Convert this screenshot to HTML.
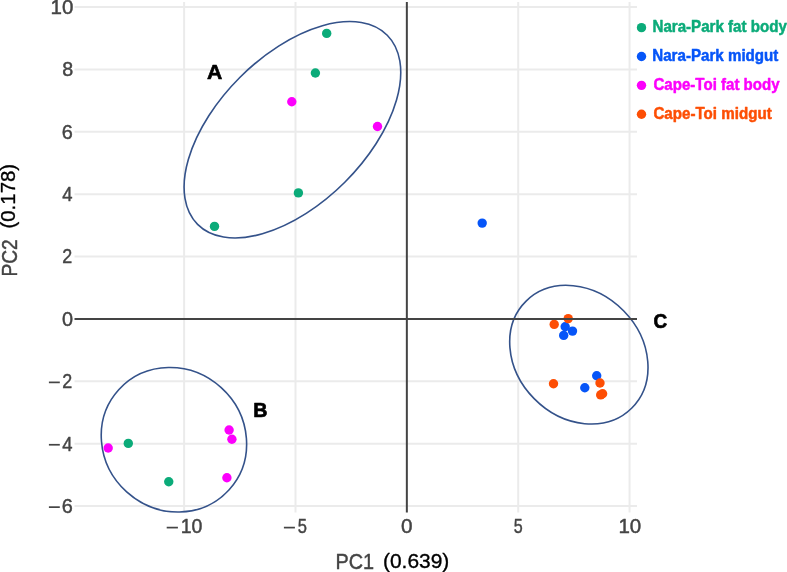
<!DOCTYPE html>
<html><head><meta charset="utf-8"><style>
html,body{margin:0;padding:0;background:#fff;overflow:hidden;}
svg{display:block;will-change:transform;font-family:"Liberation Sans",sans-serif;}
</style></head><body>
<svg width="787" height="572" viewBox="0 0 787 572" font-family="Liberation Sans, sans-serif">
<rect width="787" height="572" fill="#fff"/>
<line x1="184.14" y1="2.0" x2="184.14" y2="512.5" stroke="#ebebeb" stroke-width="2"/>
<line x1="295.50" y1="2.0" x2="295.50" y2="512.5" stroke="#ebebeb" stroke-width="2"/>
<line x1="518.21" y1="2.0" x2="518.21" y2="512.5" stroke="#ebebeb" stroke-width="2"/>
<line x1="629.56" y1="2.0" x2="629.56" y2="512.5" stroke="#ebebeb" stroke-width="2"/>
<line x1="74.5" y1="7.00" x2="637.0" y2="7.00" stroke="#ebebeb" stroke-width="2"/>
<line x1="74.5" y1="69.38" x2="637.0" y2="69.38" stroke="#ebebeb" stroke-width="2"/>
<line x1="74.5" y1="131.76" x2="637.0" y2="131.76" stroke="#ebebeb" stroke-width="2"/>
<line x1="74.5" y1="194.14" x2="637.0" y2="194.14" stroke="#ebebeb" stroke-width="2"/>
<line x1="74.5" y1="256.52" x2="637.0" y2="256.52" stroke="#ebebeb" stroke-width="2"/>
<line x1="74.5" y1="381.28" x2="637.0" y2="381.28" stroke="#ebebeb" stroke-width="2"/>
<line x1="74.5" y1="443.66" x2="637.0" y2="443.66" stroke="#ebebeb" stroke-width="2"/>
<line x1="74.5" y1="506.04" x2="637.0" y2="506.04" stroke="#ebebeb" stroke-width="2"/>
<ellipse cx="292.42" cy="129.76" rx="133.91" ry="74.19" transform="rotate(-44.92 292.42 129.76)" fill="none" stroke="#34528a" stroke-width="1.6"/>
<ellipse cx="173.93" cy="439.78" rx="74.51" ry="70.39" transform="rotate(42.19 173.93 439.78)" fill="none" stroke="#34528a" stroke-width="1.6"/>
<ellipse cx="578.85" cy="354.68" rx="75.19" ry="62.72" transform="rotate(45.46 578.85 354.68)" fill="none" stroke="#34528a" stroke-width="1.6"/>
<circle cx="326.7" cy="33.4" r="4.7" fill="#0bab79"/>
<circle cx="315.4" cy="73.0" r="4.7" fill="#0bab79"/>
<circle cx="298.4" cy="192.9" r="4.7" fill="#0bab79"/>
<circle cx="214.5" cy="226.4" r="4.7" fill="#0bab79"/>
<circle cx="128.3" cy="443.4" r="4.7" fill="#0bab79"/>
<circle cx="168.75" cy="481.7" r="4.7" fill="#0bab79"/>
<circle cx="482.2" cy="223.1" r="4.7" fill="#0655f8"/>
<circle cx="565.2" cy="326.8" r="4.7" fill="#0655f8"/>
<circle cx="572.5" cy="331.1" r="4.7" fill="#0655f8"/>
<circle cx="563.7" cy="335.4" r="4.7" fill="#0655f8"/>
<circle cx="596.7" cy="375.8" r="4.7" fill="#0655f8"/>
<circle cx="584.8" cy="387.7" r="4.7" fill="#0655f8"/>
<circle cx="291.8" cy="101.8" r="4.7" fill="#fc00fc"/>
<circle cx="377.5" cy="126.5" r="4.7" fill="#fc00fc"/>
<circle cx="108.2" cy="448" r="4.7" fill="#fc00fc"/>
<circle cx="229.1" cy="430.0" r="4.7" fill="#fc00fc"/>
<circle cx="231.9" cy="439.2" r="4.7" fill="#fc00fc"/>
<circle cx="226.9" cy="477.8" r="4.7" fill="#fc00fc"/>
<circle cx="554.2" cy="324.4" r="4.7" fill="#fd4e04"/>
<circle cx="568.2" cy="318.6" r="4.7" fill="#fd4e04"/>
<circle cx="553.5" cy="383.8" r="4.7" fill="#fd4e04"/>
<circle cx="600.0" cy="383.0" r="4.7" fill="#fd4e04"/>
<circle cx="600.7" cy="394.9" r="4.7" fill="#fd4e04"/>
<circle cx="602.6" cy="393.8" r="4.7" fill="#fd4e04"/>
<line x1="406.85" y1="2.0" x2="406.85" y2="512.5" stroke="#444" stroke-width="2"/>
<line x1="74.5" y1="318.9" x2="637.0" y2="318.9" stroke="#444" stroke-width="2"/>
<text transform="translate(50.48,13.90) scale(1.0275,1)" font-size="20" fill="#444" stroke="#444" stroke-width="0.45" stroke-linejoin="round">10</text>
<text transform="translate(62.14,76.28) scale(0.9840,1)" font-size="20" fill="#444" stroke="#444" stroke-width="0.45" stroke-linejoin="round">8</text>
<text transform="translate(61.63,138.66) scale(0.9946,1)" font-size="20" fill="#444" stroke="#444" stroke-width="0.45" stroke-linejoin="round">6</text>
<text transform="translate(62.26,201.04) scale(0.9250,1)" font-size="20" fill="#444" stroke="#444" stroke-width="0.45" stroke-linejoin="round">4</text>
<text transform="translate(62.13,263.42) scale(0.8956,1)" font-size="20" fill="#444" stroke="#444" stroke-width="0.45" stroke-linejoin="round">2</text>
<text transform="translate(62.03,325.80) scale(0.9947,1)" font-size="20" fill="#444" stroke="#444" stroke-width="0.45" stroke-linejoin="round">0</text>
<text transform="translate(62.13,388.18) scale(0.8956,1)" font-size="20" fill="#444" stroke="#444" stroke-width="0.45" stroke-linejoin="round">2</text>
<rect x="48.90" y="381.53" width="10.90" height="1.7" fill="#444"/>
<text transform="translate(62.26,450.56) scale(0.9250,1)" font-size="20" fill="#444" stroke="#444" stroke-width="0.45" stroke-linejoin="round">4</text>
<rect x="48.90" y="443.91" width="10.90" height="1.7" fill="#444"/>
<text transform="translate(61.63,512.94) scale(0.9946,1)" font-size="20" fill="#444" stroke="#444" stroke-width="0.45" stroke-linejoin="round">6</text>
<rect x="48.90" y="506.29" width="10.90" height="1.7" fill="#444"/>
<text transform="translate(180.66,533.00) scale(0.9775,1)" font-size="20" fill="#444" stroke="#444" stroke-width="0.45" stroke-linejoin="round">10</text>
<text transform="translate(297.86,533.00) scale(0.8263,1)" font-size="20" fill="#444" stroke="#444" stroke-width="0.45" stroke-linejoin="round">5</text>
<text transform="translate(400.90,533.00) scale(1.0368,1)" font-size="20" fill="#444" stroke="#444" stroke-width="0.45" stroke-linejoin="round">0</text>
<text transform="translate(513.78,533.00) scale(0.8053,1)" font-size="20" fill="#444" stroke="#444" stroke-width="0.45" stroke-linejoin="round">5</text>
<text transform="translate(618.38,533.00) scale(1.0275,1)" font-size="20" fill="#444" stroke="#444" stroke-width="0.45" stroke-linejoin="round">10</text>
<rect x="166.70" y="526.75" width="11.20" height="1.7" fill="#444"/>
<rect x="283.90" y="526.75" width="11.00" height="1.7" fill="#444"/>
<text transform="translate(335.54,569.40) scale(0.8867,1)" font-size="22.4" fill="#444" stroke="#444" stroke-width="0.45" stroke-linejoin="round">PC1</text>
<text transform="translate(383.02,567.50) scale(1.0017,1)" font-size="20.9" fill="#000" stroke="#000" stroke-width="0.35" stroke-linejoin="round">(0.639)</text>
<text transform="translate(17.30,276.51) rotate(-90) scale(0.8547,1)" font-size="22.4" fill="#444" stroke="#444" stroke-width="0.45" stroke-linejoin="round">PC2</text>
<text transform="translate(14.90,228.55) rotate(-90) scale(0.9782,1)" font-size="20.9" fill="#000" stroke="#000" stroke-width="0.35" stroke-linejoin="round">(0.178)</text>
<text transform="translate(206.92,78.60) scale(1.0189,1)" font-size="20.8" font-weight="bold" fill="#000" stroke="#000" stroke-width="0.7" stroke-linejoin="round">A</text>
<text transform="translate(253.37,416.50) scale(0.9458,1)" font-size="20.8" font-weight="bold" fill="#000" stroke="#000" stroke-width="0.7" stroke-linejoin="round">B</text>
<text transform="translate(653.49,328.20) scale(0.9102,1)" font-size="20.8" font-weight="bold" fill="#000" stroke="#000" stroke-width="0.7" stroke-linejoin="round">C</text>
<circle cx="641.5" cy="27.65" r="4.7" fill="#0bab79"/>
<text transform="translate(652.47,32.30) scale(0.9166,1)" font-size="16.5" font-weight="bold" fill="#0bab79" stroke="#0bab79" stroke-width="0.5" stroke-linejoin="round">Nara-Park fat body</text>
<circle cx="641.5" cy="56.50" r="4.7" fill="#0655f8"/>
<text transform="translate(652.27,61.20) scale(0.9172,1)" font-size="16.5" font-weight="bold" fill="#0655f8" stroke="#0655f8" stroke-width="0.5" stroke-linejoin="round">Nara-Park midgut</text>
<circle cx="641.5" cy="85.35" r="4.7" fill="#fc00fc"/>
<text transform="translate(653.45,90.10) scale(0.9144,1)" font-size="16.5" font-weight="bold" fill="#fc00fc" stroke="#fc00fc" stroke-width="0.5" stroke-linejoin="round">Cape-Toi fat body</text>
<circle cx="641.5" cy="114.20" r="4.7" fill="#fd4e04"/>
<text transform="translate(653.44,119.00) scale(0.9177,1)" font-size="16.5" font-weight="bold" fill="#fd4e04" stroke="#fd4e04" stroke-width="0.5" stroke-linejoin="round">Cape-Toi midgut</text>
</svg>
</body></html>
